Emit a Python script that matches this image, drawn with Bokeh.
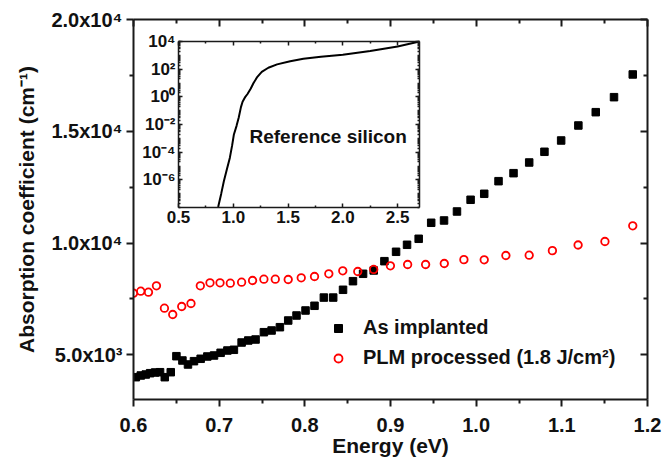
import numpy as np
from bokeh.plotting import figure
from bokeh.models import (Range1d, LinearAxis, LogAxis, FixedTicker, CustomJSTickFormatter,
                          CustomLabelingPolicy, Legend, LegendItem, Label)
from bokeh.embed import file_html
from bokeh.resources import INLINE

# ---------------- data ----------------
energy_implanted = [0.6027, 0.6085, 0.6143, 0.6194, 0.6252, 0.6310, 0.6365, 0.6435, 0.6501, 0.6571,
                    0.6636, 0.6706, 0.6784, 0.6862, 0.6940, 0.7017, 0.7096, 0.7172, 0.7262, 0.7340,
                    0.7425, 0.7522, 0.7612, 0.7709, 0.7806, 0.7903, 0.8008, 0.8113, 0.8222, 0.8331,
                    0.8446, 0.8562, 0.8680, 0.8804, 0.8929, 0.9065, 0.9193, 0.9329, 0.9475, 0.9625,
                    0.9776, 0.9935, 1.0094, 1.0261, 1.0436, 1.0619, 1.0797, 1.0992, 1.1193, 1.1396,
                    1.1609, 1.1828]
alpha_implanted = [3998, 4074, 4118, 4177, 4208, 4221, 3998, 4221, 4937, 4745,
                   4566, 4714, 4821, 4924, 4969, 5089, 5192, 5224, 5550, 5640,
                   5684, 6011, 6087, 6235, 6534, 6758, 6982, 7192, 7560, 7560,
                   7908, 8293, 8624, 8772, 9188, 9608, 9921, 10190, 10906, 11009,
                   11411, 11935, 12203, 12767, 13125, 13603, 14082, 14587, 15258, 15854,
                   16525, 17541]

energy_plm = [0.6000, 0.6085, 0.6175, 0.6268, 0.6361, 0.6458, 0.6563, 0.6671, 0.6780, 0.6893,
              0.7010, 0.7130, 0.7262, 0.7390, 0.7522, 0.7655, 0.7806, 0.7958, 0.8113, 0.8280,
              0.8443, 0.8618, 0.8804, 0.8999, 0.9200, 0.9410, 0.9628, 0.9857, 1.0094, 1.0347,
              1.0619, 1.0890, 1.1190, 1.1503, 1.1828]
alpha_plm = [7756, 7846, 7800, 8087, 7085, 6803, 7160, 7295, 8087, 8221,
             8221, 8203, 8248, 8324, 8382, 8382, 8369, 8445, 8503, 8624,
             8758, 8727, 8817, 8982, 9040, 9040, 9085, 9257, 9250, 9443,
             9456, 9660, 9912, 10069, 10771]

ref_energy = [0.862, 0.890, 0.914, 0.940, 0.969, 0.990, 1.005, 1.030, 1.050, 1.070,
              1.085, 1.110, 1.130, 1.160, 1.185, 1.220, 1.260, 1.320, 1.400, 1.520,
              1.640, 1.800, 2.000, 2.250, 2.500, 2.700]
ref_alpha = [1.1e-8, 1.0e-7, 8.0e-7, 5.2e-6, 4.0e-5, 3.2e-4, 1.8e-3, 8.0e-3, 3.2e-2, 0.18,
             0.44, 1.0, 1.6, 4.0, 10.0, 28.0, 64.0, 127.0, 223.0, 378.0,
             557.0, 796.0, 1095.0, 2070.0, 4380.0, 10000.0]

x_ticks = [0.6, 0.7, 0.8, 0.9, 1.0, 1.1, 1.2]
y_ticks = [5000, 10000, 15000, 20000]
inset_x_ticks = [0.5, 1.0, 1.5, 2.0, 2.5]
inset_y_ticks = [1e-6, 1e-4, 1e-2, 1e0, 1e2, 1e4]

label_implanted = "As implanted"
label_plm = "PLM processed (1.8 J/cm\u00b2)"
x_title = "Energy (eV)"
y_title = "Absorption coefficient (cm\u207b\u00b9)"
inset_title = "Reference silicon"

FONT = "Liberation Sans"
INK = "#111111"

hide_labels = CustomLabelingPolicy(code="""
const n = indices.size;
for (let i = 0; i < n; i++) {
  if (typeof indices.unset === 'function') { indices.unset(i); } else { indices.set(i, false); }
}
return indices;
""")


def style_axis(ax, font_size, tick_in, tick_out, minor_in, minor_out, lw=2):
    ax.axis_line_width = lw
    ax.axis_line_color = "#1a1a1a"
    ax.major_tick_line_width = lw
    ax.minor_tick_line_width = lw
    ax.major_tick_line_color = "#1a1a1a"
    ax.minor_tick_line_color = "#1a1a1a"
    ax.major_tick_in = tick_in
    ax.major_tick_out = tick_out
    ax.minor_tick_in = minor_in
    ax.minor_tick_out = minor_out
    ax.major_label_text_font = FONT
    ax.major_label_text_font_style = "bold"
    ax.major_label_text_font_size = font_size
    ax.major_label_text_color = INK
    ax.axis_label_text_font = FONT
    ax.axis_label_text_font_style = "bold"
    ax.axis_label_text_font_size = "21px"
    ax.axis_label_text_color = INK


def mirror_axis(cls, ticker, tick_len, minor_len, lw):
    ax = cls(ticker=ticker, major_label_policy=hide_labels, major_label_standoff=0)
    style_axis(ax, "10px", tick_len, 0, minor_len, 0, lw=lw)
    return ax


one_decimal = CustomJSTickFormatter(code="return tick.toFixed(1);")

# ---------------- main figure ----------------
p = figure(frame_width=514, frame_height=380,
           x_range=Range1d(0.6, 1.2), y_range=Range1d(3000, 20000),
           output_backend="svg", toolbar_location=None,
           min_border_left=133, min_border_right=12, min_border_top=19, min_border_bottom=55)
p.outline_line_color = None
p.xgrid.visible = False
p.ygrid.visible = False
p.background_fill_color = "white"

xt = np.array(x_ticks)
x_minor = list((xt[:-1] + xt[1:]) / 2)
yt = np.array(y_ticks)
y_minor = list((yt[:-1] + yt[1:]) / 2)

x_ticker = FixedTicker(ticks=x_ticks, minor_ticks=x_minor)
y_ticker = FixedTicker(ticks=y_ticks, minor_ticks=y_minor)

sci_fmt = CustomJSTickFormatter(code="""
const sup = {'0':'\u2070','1':'\u00b9','2':'\u00b2','3':'\u00b3','4':'\u2074','5':'\u2075',
             '6':'\u2076','7':'\u2077','8':'\u2078','9':'\u2079','-':'\u207b'};
if (tick == 0) { return '0'; }
const e = Math.floor(Math.log10(Math.abs(tick)) + 1e-9);
const m = tick / Math.pow(10, e);
return m.toFixed(1) + 'x10' + String(e).split('').map(c => sup[c]).join('');
""")

xa = p.xaxis[0]
xa.ticker = x_ticker
xa.formatter = one_decimal
xa.axis_label = x_title
style_axis(xa, "20px", 0, 7, 0, 4)
xa.major_label_standoff = 11
xa.axis_label_standoff = -1

ya = p.yaxis[0]
ya.ticker = y_ticker
ya.formatter = sci_fmt
ya.axis_label = y_title
style_axis(ya, "20px", 0, 7, 0, 4)
ya.major_label_standoff = 4
ya.axis_label_standoff = 10

p.add_layout(mirror_axis(LinearAxis, x_ticker, 7, 4, 2), "above")
p.add_layout(mirror_axis(LinearAxis, y_ticker, 7, 4, 2), "right")

r_imp = p.scatter(energy_implanted, alpha_implanted, marker="square", size=7.5,
                  fill_color="black", line_color="black")
r_plm = p.scatter(energy_plm, alpha_plm, marker="circle", size=7.5,
                  fill_color=None, line_color="#ff0000", line_width=1.8)

legend = Legend(items=[LegendItem(label=label_implanted, renderers=[r_imp]),
                       LegendItem(label=label_plm, renderers=[r_plm])],
                location=(195, 30), orientation="vertical",
                glyph_width=20, glyph_height=20, label_height=20, spacing=7,
                label_standoff=15, padding=0, margin=0,
                border_line_color=None, background_fill_alpha=0,
                label_text_font=FONT, label_text_font_style="bold",
                label_text_font_size="20px", label_text_color=INK)
p.add_layout(legend, "center")

# ---------------- inset figure ----------------
ins = figure(frame_width=241, frame_height=166,
             x_range=Range1d(0.5, 2.7), y_range=Range1d(1e-8, 1e4),
             y_axis_type="log", output_backend="svg", toolbar_location=None,
             min_border_left=48, min_border_right=4, min_border_top=7, min_border_bottom=24,
             styles={"position": "absolute", "left": "130px", "top": "30px"})
ins.outline_line_color = None
ins.xgrid.visible = False
ins.ygrid.visible = False
ins.border_fill_alpha = 0
ins.background_fill_color = "white"

ixt = np.array(inset_x_ticks)
ix_minor = list((ixt[:-1] + ixt[1:]) / 2)
iy_minor = [m * 10.0 ** k for k in range(-8, 5) for m in range(1, 10)]
ix_ticker = FixedTicker(ticks=inset_x_ticks, minor_ticks=ix_minor)
iy_ticker = FixedTicker(ticks=inset_y_ticks, minor_ticks=iy_minor)

pow_fmt = CustomJSTickFormatter(code="""
const sup = {'0':'\u2070','1':'\u00b9','2':'\u00b2','3':'\u00b3','4':'\u2074','5':'\u2075',
             '6':'\u2076','7':'\u2077','8':'\u2078','9':'\u2079','-':'\u207b'};
const e = Math.round(Math.log10(tick));
return '10' + String(e).split('').map(c => sup[c]).join('');
""")

ixa = ins.xaxis[0]
ixa.ticker = ix_ticker
ixa.formatter = one_decimal
style_axis(ixa, "17px", 4, 0, 2, 0, lw=1.5)
ixa.major_label_standoff = 3

iya = ins.yaxis[0]
iya.ticker = iy_ticker
iya.formatter = pow_fmt
style_axis(iya, "17px", 4, 0, 2, 0, lw=1.5)
iya.major_label_standoff = 3

ins.add_layout(mirror_axis(LinearAxis, ix_ticker, 4, 2, 1.5), "above")
ins.add_layout(mirror_axis(LogAxis, iy_ticker, 4, 2, 1.5), "right")

ins.line(ref_energy, ref_alpha, line_color="black", line_width=2)

ins.add_layout(Label(x=1.148, y=10 ** -2.9, text=inset_title,
                     text_font=FONT, text_font_style="bold", text_font_size="19px",
                     text_color=INK, text_align="left", text_baseline="middle"))

open("out.html", "w").write(file_html([p, ins], INLINE))
